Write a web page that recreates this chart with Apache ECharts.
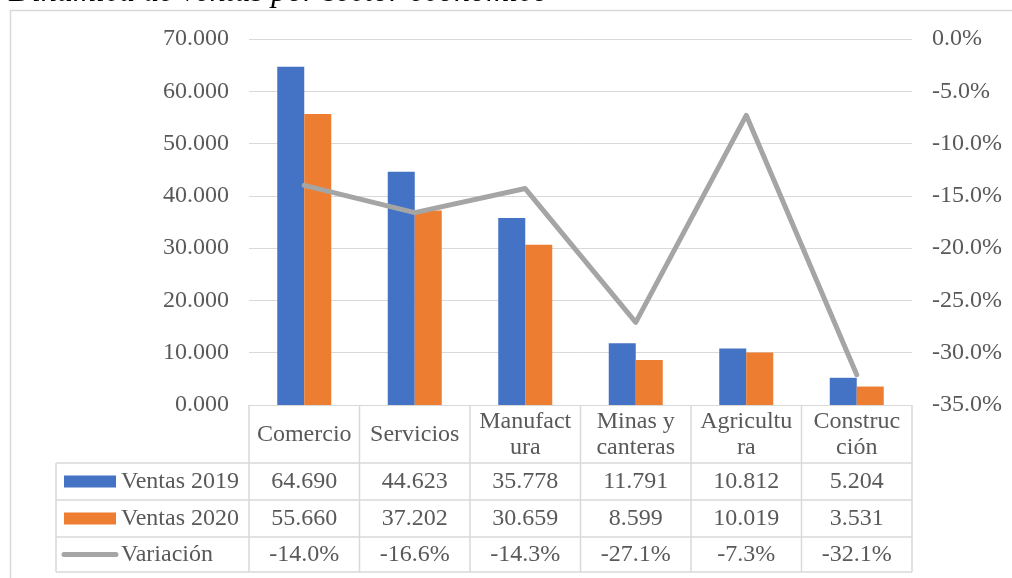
<!DOCTYPE html>
<html>
<head>
<meta charset="utf-8">
<title>Dinámica de ventas por sector económico</title>
<script src="https://cdn.jsdelivr.net/npm/echarts@6/dist/echarts.min.js"></script>
<style>
  html, body { margin: 0; padding: 0; background: #fff; }
  #chart { width: 1012px; height: 578px; }
</style>
</head>
<body>
<div id="chart"></div>
<script>
// datos
const sectores = ['Comercio', 'Servicios', 'Manufactura', 'Minas y canteras', 'Agricultura', 'Construcción'];
// cabecera de la tabla tal como se corta en el original
const cabecera = ['Comercio', 'Servicios', 'Manufact\nura', 'Minas y\ncanteras', 'Agricultu\nra', 'Construc\nción'];
const ventas2019 = [64.690, 44.623, 35.778, 11.791, 10.812, 5.204];
const ventas2020 = [55.660, 37.202, 30.659, 8.599, 10.019, 3.531];
const variacion = [-14.0, -16.6, -14.3, -27.1, -7.3, -32.1];
const ticksVentas = [0, 10, 20, 30, 40, 50, 60, 70];
const ticksVariacion = [0, -5, -10, -15, -20, -25, -30, -35];

const FONT = '"Liberation Serif", "Times New Roman", serif';
const TAM = 24;
const GRIS_TXT = '#595959';
const GRIS_LINEA = '#D9D9D9';
const AZUL = '#4472C4';
const NARANJA = '#ED7D31';
const GRIS = '#A5A5A5';

const chart = echarts.init(document.getElementById('chart'));

chart.setOption({
  animation: false,
  title: {
    text: 'Dinámica de ventas por sector económico',
    left: 4,
    top: -28,
    textStyle: { fontFamily: FONT, fontStyle: 'italic', fontWeight: 'normal', fontSize: 32, color: '#000' }
  },
  grid: { left: 249, right: 100, top: 39, bottom: 173 },
  xAxis: {
    type: 'category',
    data: sectores,
    axisLine: { lineStyle: { color: GRIS_LINEA } },
    axisTick: { show: false },
    axisLabel: { show: false }
  },
  yAxis: [
    {
      type: 'value',
      min: ticksVentas[0],
      max: ticksVentas[ticksVentas.length - 1],
      interval: 10,
      axisLine: { show: false },
      axisTick: { show: false },
      splitLine: { lineStyle: { color: GRIS_LINEA, width: 1 } },
      axisLabel: {
        margin: 20,
        fontFamily: FONT, fontSize: TAM, color: GRIS_TXT,
        formatter: v => v.toFixed(3)
      }
    },
    {
      type: 'value',
      min: ticksVariacion[ticksVariacion.length - 1],
      max: ticksVariacion[0],
      interval: 5,
      axisLine: { show: false },
      axisTick: { show: false },
      splitLine: { show: false },
      axisLabel: {
        margin: 20,
        fontFamily: FONT, fontSize: TAM, color: GRIS_TXT,
        formatter: v => v.toFixed(1) + '%'
      }
    }
  ],
  series: [
    {
      name: 'Ventas 2019',
      type: 'bar',
      data: ventas2019,
      barWidth: 27,
      barGap: '0%',
      itemStyle: { color: AZUL }
    },
    {
      name: 'Ventas 2020',
      type: 'bar',
      data: ventas2020,
      barWidth: 27,
      barGap: '0%',
      itemStyle: { color: NARANJA }
    },
    {
      name: 'Variación',
      type: 'line',
      yAxisIndex: 1,
      data: variacion,
      symbol: 'none',
      lineStyle: { color: GRIS, width: 5, cap: 'round', join: 'round' },
      z: 5
    }
  ]
});

// tabla de datos debajo del grafico
function dibujarTabla() {
  const x0 = chart.convertToPixel({ xAxisIndex: 0 }, 0);
  const x1 = chart.convertToPixel({ xAxisIndex: 0 }, 1);
  const paso = x1 - x0;
  const izq = x0 - paso / 2;
  const der = izq + paso * sectores.length;
  const yEje = chart.convertToPixel({ yAxisIndex: 0 }, 0);
  const filas = [yEje + 58, yEje + 95, yEje + 132, yEje + 167];
  const colLeyenda = 56;

  const elems = [];
  const linea = (xa, ya, xb, yb) => elems.push({
    type: 'line', shape: { x1: xa, y1: ya, x2: xb, y2: yb },
    style: { stroke: GRIS_LINEA, lineWidth: 1.5 }, silent: true
  });
  const texto = (t, x, y, align) => elems.push({
    type: 'text', x: x, y: y,
    style: { text: t, fill: GRIS_TXT, font: TAM + 'px ' + FONT, align: align || 'center', verticalAlign: 'middle', lineHeight: 26 },
    silent: true
  });

  // borde del area del grafico
  elems.push({
    type: 'rect', shape: { x: 10.5, y: 10.5, width: 1010, height: 600 },
    style: { fill: 'none', stroke: GRIS_LINEA, lineWidth: 1.5 }, silent: true
  });

  // lineas verticales
  for (let i = 0; i <= sectores.length; i++) {
    linea(izq + paso * i, yEje, izq + paso * i, filas[3]);
  }
  linea(colLeyenda, filas[0], colLeyenda, filas[3]);
  // lineas horizontales
  filas.forEach(y => linea(colLeyenda, y, der, y));

  // cabecera
  cabecera.forEach((c, i) => texto(c, izq + paso * (i + 0.5), (yEje + filas[0]) / 2 + 1));

  const series = [
    { nombre: 'Ventas 2019', datos: ventas2019.map(v => v.toFixed(3)), color: AZUL, tipo: 'bar' },
    { nombre: 'Ventas 2020', datos: ventas2020.map(v => v.toFixed(3)), color: NARANJA, tipo: 'bar' },
    { nombre: 'Variación', datos: variacion.map(v => v.toFixed(1) + '%'), color: GRIS, tipo: 'line' }
  ];
  series.forEach((s, r) => {
    const yc = (filas[r] + filas[r + 1]) / 2;
    if (s.tipo === 'bar') {
      elems.push({ type: 'rect', shape: { x: 64, y: yc - 6, width: 52, height: 12 }, style: { fill: s.color }, silent: true });
    } else {
      elems.push({ type: 'line', shape: { x1: 64, y1: yc, x2: 116, y2: yc }, style: { stroke: s.color, lineWidth: 5, lineCap: 'round' }, silent: true });
    }
    texto(s.nombre, 121, yc, 'left');
    s.datos.forEach((d, i) => texto(d, izq + paso * (i + 0.5), yc));
  });

  chart.setOption({ graphic: { elements: elems } });
}

dibujarTabla();
</script>
</body>
</html>
